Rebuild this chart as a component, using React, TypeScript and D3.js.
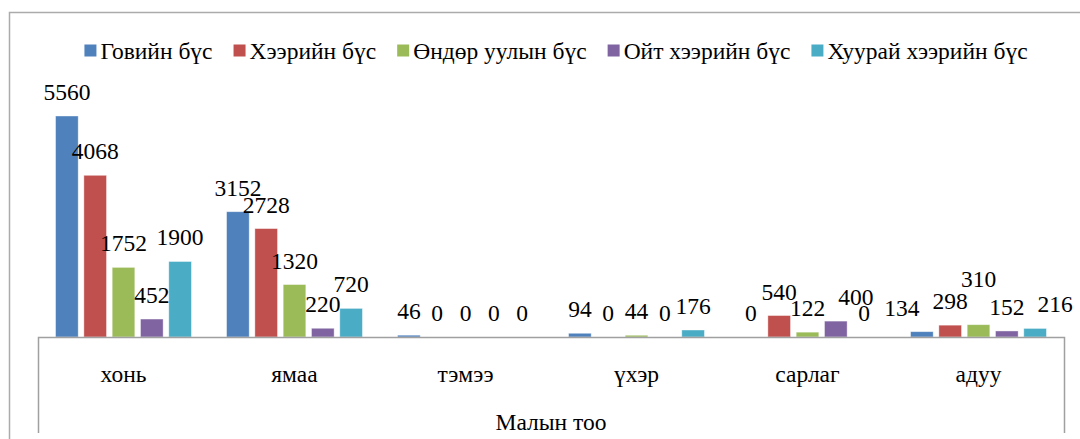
import React from "react";
import * as d3 from "d3";

// Grouped bars: livestock counts by natural zone, Excel-style with value labels.
const categories = ["хонь", "ямаа", "тэмээ", "үхэр", "сарлаг", "адуу"];
const seriesNames = [
  "Говийн бүс",
  "Хээрийн бүс",
  "Өндөр уулын бүс",
  "Ойт хээрийн бүс",
  "Хуурай хээрийн бүс",
];
const gobi = [5560, 3152, 46, 94, 0, 134];
const steppe = [4068, 2728, 0, 0, 540, 298];
const mountain = [1752, 1320, 0, 44, 122, 310];
const forest = [452, 220, 0, 0, 400, 152];
const drySteppe = [1900, 720, 0, 176, 0, 216];
const axisTitle = "Малын тоо";

const values = [gobi, steppe, mountain, forest, drySteppe];
const colors = ["#4f81bd", "#c0504d", "#9bbb59", "#8064a2", "#4bacc6"];

const W = 1080;
const H = 439;
const FONT =
  "'Liberation Serif', 'Times New Roman', Tinos, 'DejaVu Serif', 'Noto Serif', serif";
const FS = 23.5;

let ctx: CanvasRenderingContext2D | null = null;
function textWidth(s: string, size = FS) {
  if (!ctx) ctx = document.createElement("canvas").getContext("2d");
  if (!ctx) return s.length * size * 0.55;
  ctx.font = `${size}px ${FONT}`;
  return ctx.measureText(s).width;
}

type Lbl = { x: number; y: number; text: string; w: number; v: number; up: boolean };

// Excel-ish label tidy-up: a label squeezed between two neighbours at the same
// height goes up a line, then neighbours that still collide are spread sideways.
function tidy(row: Lbl[], groupCenter: number) {
  const clash = (a: Lbl, b: Lbl) =>
    Math.abs(a.y - b.y) < FS * 0.5 && Math.abs(a.x - b.x) < (a.w + b.w) / 2;
  for (;;) {
    const flat = row.filter((l) => !l.up);
    const cand = flat.filter(
      (l, i) => i > 0 && i < flat.length - 1 && clash(l, flat[i - 1]) && clash(l, flat[i + 1])
    );
    if (!cand.length) break;
    const pick = cand.reduce((a, b) => (b.v > a.v ? b : a));
    const i = flat.indexOf(pick);
    pick.y = Math.min(flat[i - 1].y, flat[i + 1].y) - FS * 0.95;
    pick.up = true;
  }
  const flat = row.filter((l) => !l.up);
  const gap = 13;
  for (let i = 1; i < flat.length; i++) {
    const a = flat[i - 1];
    const b = flat[i];
    if (!clash(a, b)) continue;
    const need = (a.w + b.w) / 2 + gap - (b.x - a.x);
    // move whichever label sits further from the middle of the group
    if (Math.abs(a.x - groupCenter) > Math.abs(b.x - groupCenter)) a.x -= need;
    else b.x += need;
  }
}

export default function App() {
  const plot = { left: 38, right: 1064, base: 337, bottom: 433 };

  const x0 = d3.scaleBand<string>().domain(categories).range([plot.left, plot.right]);
  const x1 = d3
    .scaleBand<number>()
    .domain(d3.range(seriesNames.length))
    .range([0, x0.bandwidth()])
    .paddingInner(0.2)
    .paddingOuter(0.62);
  const y = d3.scaleLinear().domain([0, 6000]).range([plot.base, 98.5]);

  const labels: Lbl[] = [];
  categories.forEach((c, ci) => {
    const row: Lbl[] = values.map((vals, si) => {
      const v = vals[ci];
      const text = String(v);
      return {
        x: (x0(c) ?? 0) + (x1(si) ?? 0) + x1.bandwidth() / 2,
        y: y(v) - 16,
        text,
        w: textWidth(text),
        v,
        up: false,
      };
    });
    tidy(row, (x0(c) ?? 0) + x0.bandwidth() / 2);
    labels.push(...row);
  });

  // legend laid out in one centred row
  const sq = 12;
  const itemWidths = seriesNames.map((n) => sq + 4 + textWidth(n));
  const gap = 21;
  const total = d3.sum(itemWidths) + gap * (seriesNames.length - 1);
  let lx = 556 - total / 2;
  const legendItems = seriesNames.map((n, i) => {
    const item = { name: n, x: lx, color: colors[i] };
    lx += itemWidths[i] + gap;
    return item;
  });

  return (
    <svg
      width={W}
      height={H}
      style={{ position: "absolute", left: 0, top: 0, background: "#fff", fontFamily: FONT }}
    >
      <rect x={0} y={0} width={W} height={H} fill="#fff" />
      {/* outer chart frame, cut off at the right and bottom */}
      <path d={`M9.5,${H} V12.5 H${W + 2}`} fill="none" stroke="#ababab" strokeWidth={1.5} />

      {legendItems.map((it) => (
        <g key={it.name}>
          <rect x={it.x} y={44.5} width={sq} height={sq} fill={it.color} />
          <text x={it.x + sq + 4} y={59} fontSize={FS} fill="#000">
            {it.name}
          </text>
        </g>
      ))}

      {categories.map((c, ci) => (
        <g key={c}>
          {values.map((vals, si) => (
            <rect
              key={si}
              x={(x0(c) ?? 0) + (x1(si) ?? 0)}
              y={y(vals[ci])}
              width={x1.bandwidth()}
              height={plot.base - y(vals[ci])}
              fill={colors[si]}
              stroke="#ffffff"
              strokeOpacity={0.5}
              strokeWidth={0.8}
            />
          ))}
        </g>
      ))}

      {labels.map((l, i) => (
        <text key={i} x={l.x} y={l.y} fontSize={FS} textAnchor="middle" fill="#000">
          {l.text}
        </text>
      ))}

      {/* multi-level category axis box */}
      <path
        d={`M${plot.left + 0.5},${plot.bottom} V${plot.base + 0.5} H${plot.right + 0.5} V${plot.bottom}`}
        fill="none"
        stroke="#a0a0a0"
        strokeWidth={1.5}
      />
      {categories.map((c) => (
        <text
          key={c}
          x={(x0(c) ?? 0) + x0.bandwidth() / 2}
          y={382}
          fontSize={FS}
          textAnchor="middle"
          fill="#000"
        >
          {c}
        </text>
      ))}
      <text x={(plot.left + plot.right) / 2} y={430} fontSize={FS} textAnchor="middle" fill="#000">
        {axisTitle}
      </text>
    </svg>
  );
}
